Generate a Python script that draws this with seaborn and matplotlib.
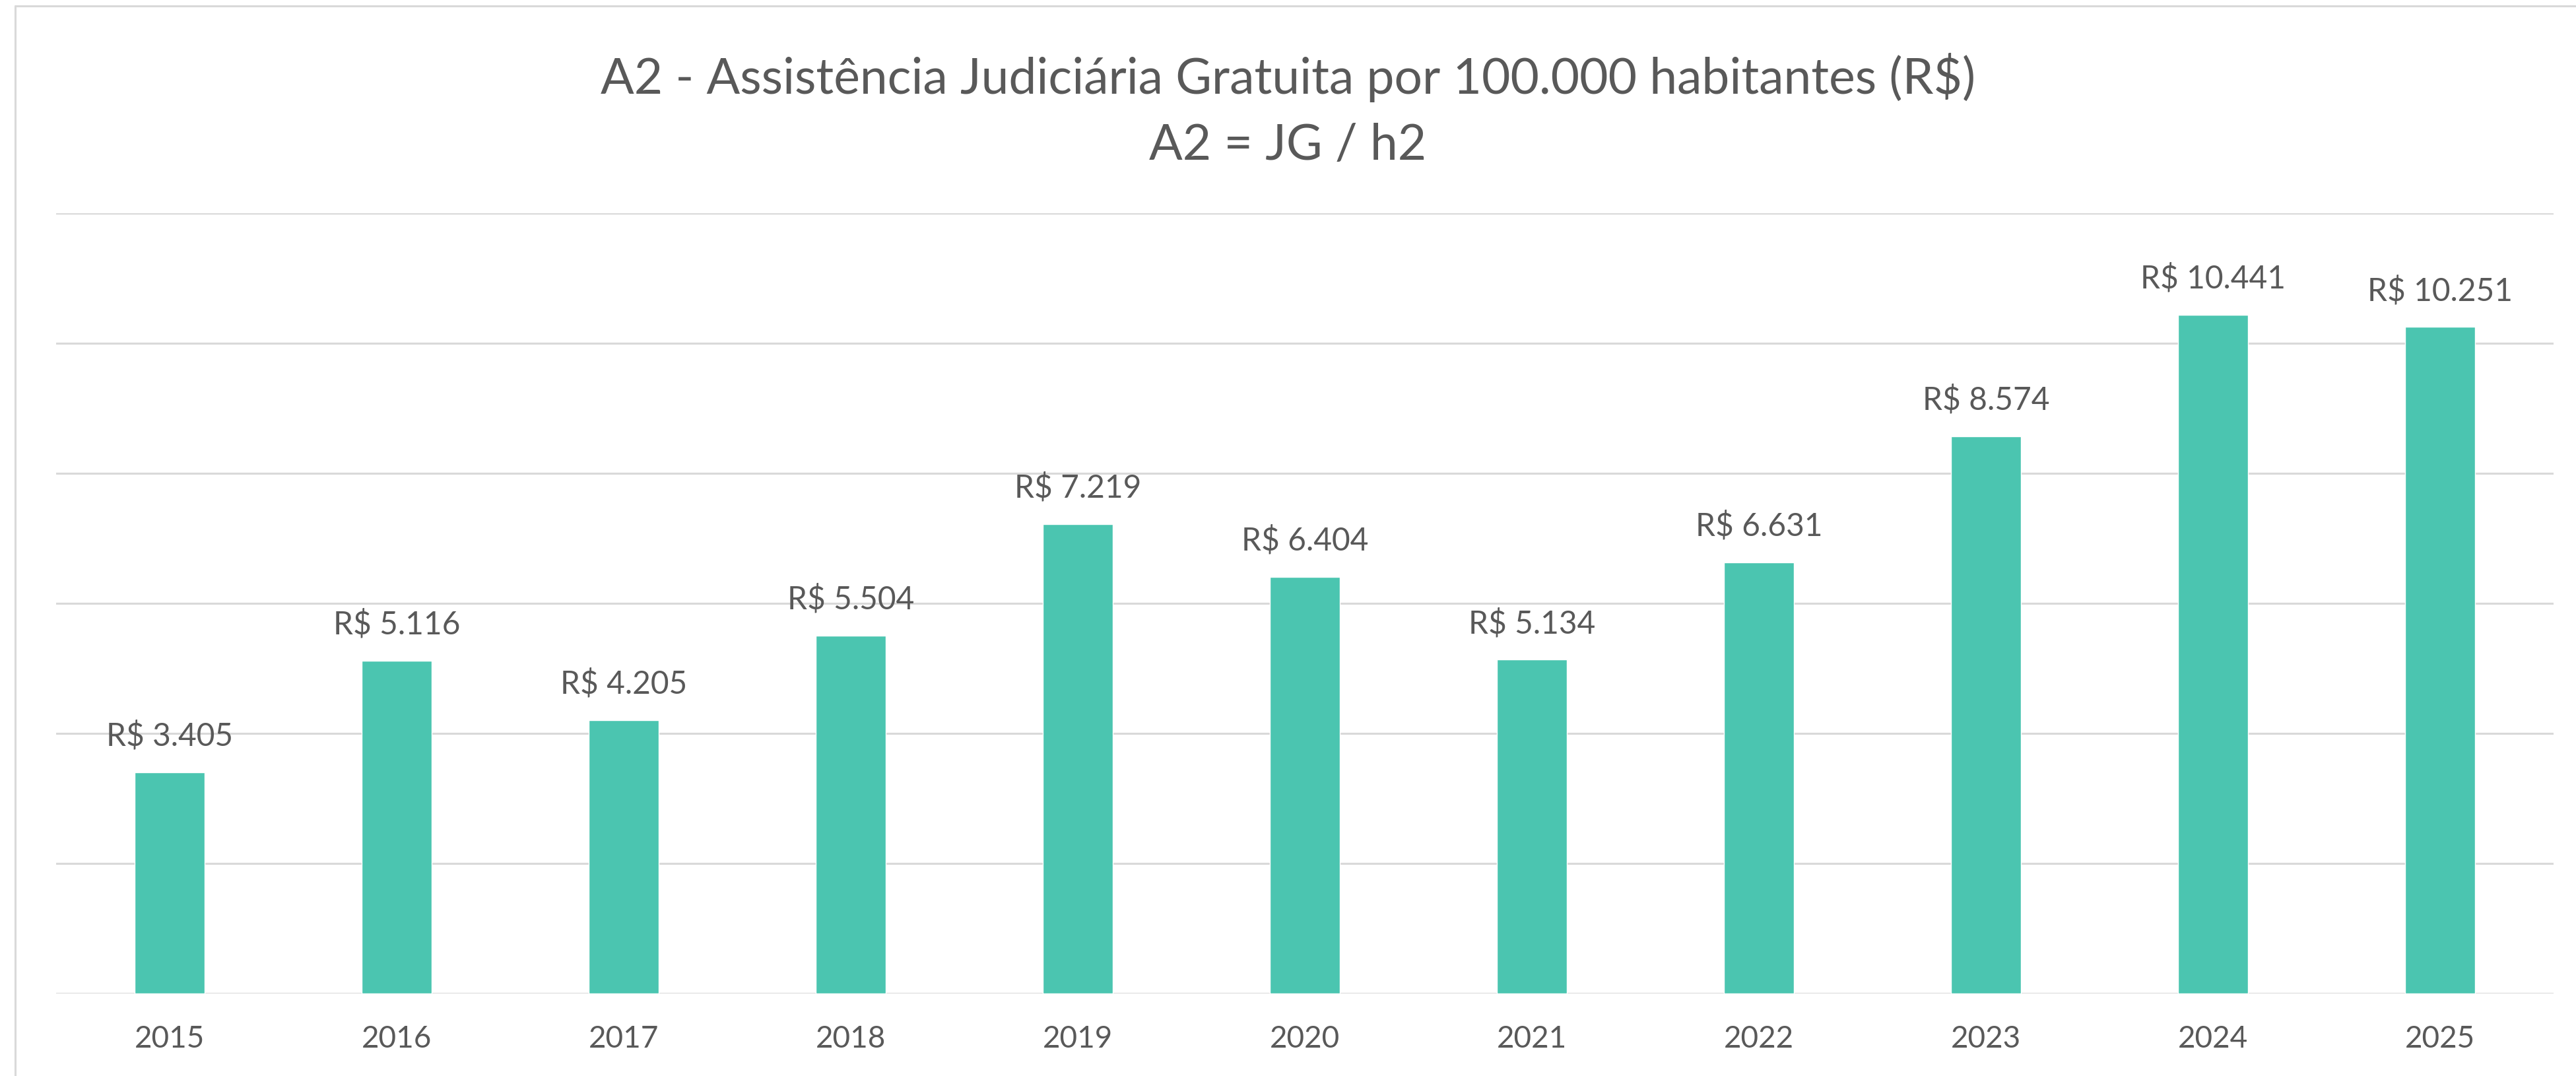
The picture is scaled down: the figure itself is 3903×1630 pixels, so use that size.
import matplotlib
matplotlib.use("Agg")
import matplotlib.pyplot as plt
import seaborn as sns
import pandas as pd
from matplotlib.lines import Line2D

# Chart data
years = ["2015", "2016", "2017", "2018", "2019", "2020", "2021", "2022", "2023", "2024", "2025"]
values = [3405, 5116, 4205, 5504, 7219, 6404, 5134, 6631, 8574, 10441, 10251]

df = pd.DataFrame({"Ano": years, "Valor": values})

sns.set_style("white")
plt.rcParams["font.family"] = ["Lato", "DejaVu Sans"]

text_color = "#595959"
grid_color = "#d9d9d9"
bar_color = "#4bc5b0"

fig = plt.figure(figsize=(39.03, 16.31), dpi=100)
ax = fig.add_axes([0.0218, 0.0766, 0.9695, 0.7247])

sns.barplot(data=df, x="Ano", y="Valor", color=bar_color, width=0.31,
            saturation=1, ax=ax, zorder=3)

ax.set_ylim(0, 12000)
ax.set_xlim(-0.5, len(years) - 0.5)
ax.set_yticks(range(0, 12001, 2000))
ax.set_yticklabels([])
ax.yaxis.grid(True, color=grid_color, linewidth=2.2, zorder=0)
ax.tick_params(axis="both", length=0)
ax.tick_params(axis="x", labelsize=33, labelcolor=text_color, pad=34)
ax.set_xlabel("")
ax.set_ylabel("")
for s in ax.spines.values():
    s.set_visible(False)

labels = ["R$ " + f"{v:,}".replace(",", ".") for v in values]
ax.bar_label(ax.containers[0], labels=labels, padding=24, fontsize=34.5, color=text_color)

fig.text(0.5, 0.928, "A2 - Assistência Judiciária Gratuita por 100.000 habitantes (R$)",
         ha="center", va="center", fontsize=54, color=text_color)
fig.text(0.5, 0.865, "A2 = JG / h2", ha="center", va="center", fontsize=54, color=text_color)

# outer chart border (left and top edges visible)
fig.add_artist(Line2D([0.0059, 0.0059], [0.9939, 0.0], color=grid_color, linewidth=2.2))
fig.add_artist(Line2D([0.0059, 1.0], [0.9939, 0.9939], color=grid_color, linewidth=2.2))

fig.savefig("out.png", dpi=100, facecolor="white")
